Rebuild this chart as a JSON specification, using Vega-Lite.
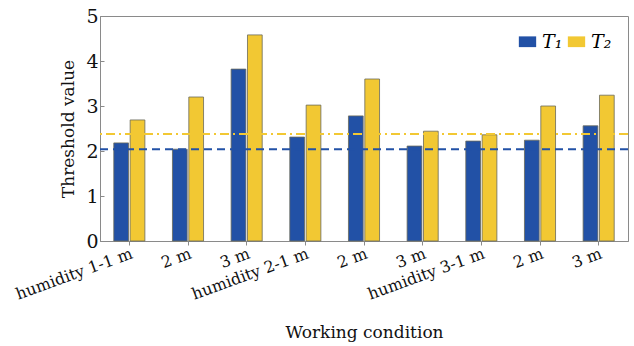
{
  "$schema": "https://vega.github.io/schema/vega-lite/v6.json",
  "autosize": {"type": "none"},
  "width": 528,
  "height": 225,
  "padding": {"left": 100, "top": 16, "right": 6, "bottom": 105},
  "background": "white",
  "config": {
    "view": {"stroke": "#8a8a8a", "strokeWidth": 1},
    "font": "DejaVu Serif",
    "axis": {"labelFont": "DejaVu Serif", "titleFont": "DejaVu Serif", "labelColor": "#111", "titleColor": "#111", "titleFontWeight": "normal", "domainColor": "#8a8a8a", "tickColor": "#8a8a8a"}
  },
  "datasets": {
    "bars": [
      {"cond": "1|humidity 1-1 m", "series": "T₁", "value": 2.18},
      {"cond": "1|humidity 1-1 m", "series": "T₂", "value": 2.69},
      {"cond": "2|2 m", "series": "T₁", "value": 2.04},
      {"cond": "2|2 m", "series": "T₂", "value": 3.2},
      {"cond": "3|3 m", "series": "T₁", "value": 3.82},
      {"cond": "3|3 m", "series": "T₂", "value": 4.58},
      {"cond": "4|humidity 2-1 m", "series": "T₁", "value": 2.31},
      {"cond": "4|humidity 2-1 m", "series": "T₂", "value": 3.02},
      {"cond": "5|2 m", "series": "T₁", "value": 2.78},
      {"cond": "5|2 m", "series": "T₂", "value": 3.6},
      {"cond": "6|3 m", "series": "T₁", "value": 2.11},
      {"cond": "6|3 m", "series": "T₂", "value": 2.44},
      {"cond": "7|humidity 3-1 m", "series": "T₁", "value": 2.22},
      {"cond": "7|humidity 3-1 m", "series": "T₂", "value": 2.36},
      {"cond": "8|2 m", "series": "T₁", "value": 2.24},
      {"cond": "8|2 m", "series": "T₂", "value": 3.0},
      {"cond": "9|3 m", "series": "T₁", "value": 2.56},
      {"cond": "9|3 m", "series": "T₂", "value": 3.24}
    ],
    "refs": [
      {"series": "T₁", "value": 2.04},
      {"series": "T₂", "value": 2.38}
    ]
  },
  "layer": [
    {
      "data": {"name": "bars"},
      "mark": {"type": "bar", "stroke": "#6a6a5a", "strokeWidth": 0.8},
      "encoding": {
        "x": {
          "field": "cond", "type": "nominal", "sort": null,
          "scale": {"paddingInner": 0.47, "paddingOuter": 0.235},
          "axis": {
            "title": "Working condition", "titleFontSize": 17, "titlePadding": 22,
            "labelFont": "DejaVu Serif",
            "labelExpr": "slice(datum.value, 2)", "labelAngle": -20, "labelFontSize": 16,
            "labelPadding": 0, "labelDx": 7, "tickSize": 4, "labelOverlap": false
          }
        },
        "xOffset": {"field": "series", "type": "nominal", "scale": {"paddingInner": 0.1}},
        "y": {
          "field": "value", "type": "quantitative",
          "scale": {"domain": [0, 5], "nice": false},
          "axis": {"title": "Threshold value", "titleFontSize": 17, "titlePadding": 8, "labelFont": "DejaVu Serif", "values": [0, 1, 2, 3, 4, 5], "labelFontSize": 19, "tickSize": -4, "labelPadding": 6, "grid": false}
        },
        "color": {
          "field": "series", "type": "nominal",
          "scale": {"domain": ["T₁", "T₂"], "range": ["#2251a6", "#f2c833"]},
          "legend": {
            "title": null, "orient": "top-right", "direction": "horizontal",
            "labelFontStyle": "italic", "labelFontSize": 19, "labelFont": "DejaVu Serif",
            "symbolType": "M-1,-0.62H1V0.62H-1Z", "symbolSize": 300, "symbolStrokeWidth": 0,
            "columnPadding": 4, "offset": 14, "labelOffset": 5, "padding": 2
          }
        }
      }
    },
    {
      "data": {"name": "refs"},
      "mark": {"type": "rule", "strokeWidth": 2},
      "encoding": {
        "y": {"field": "value", "type": "quantitative"},
        "color": {"field": "series", "type": "nominal"},
        "strokeDash": {
          "field": "series", "type": "nominal",
          "scale": {"domain": ["T₁", "T₂"], "range": [[8, 5], [9, 4, 2, 4]]},
          "legend": null
        }
      }
    }
  ]
}
